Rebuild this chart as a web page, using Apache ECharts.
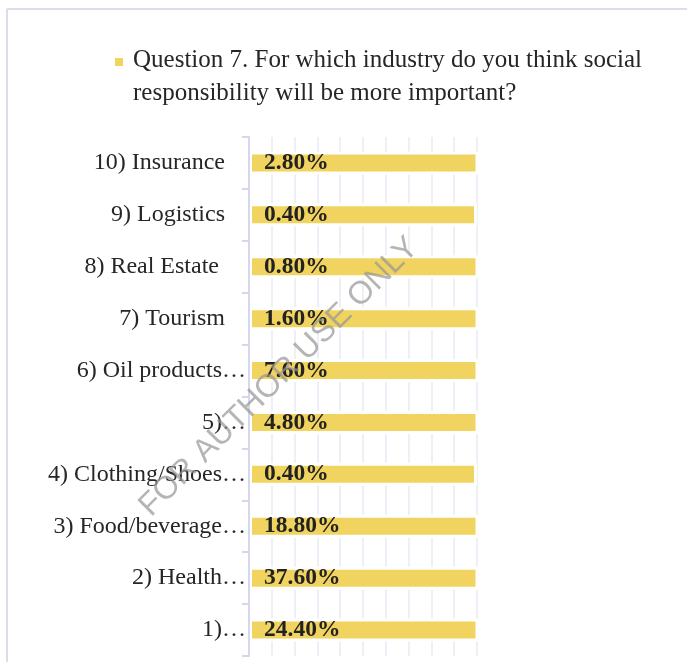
<!DOCTYPE html>
<html>
<head>
<meta charset="utf-8">
<script src="https://cdn.jsdelivr.net/npm/echarts@6/dist/echarts.min.js"></script>
<style>
  html, body { margin: 0; padding: 0; background: #fff; }
  #chart { width: 687px; height: 662px; }
</style>
</head>
<body>
<div id="chart"></div>
<script>
// Survey answers, listed bottom-to-top as the category axis draws them
const categories = [
  '1)…',
  '2) Health…',
  '3) Food/beverage…',
  '4) Clothing/Shoes…',
  '5)…',
  '6) Oil products…',
  '7) Tourism',
  '8) Real Estate ',
  '9) Logistics',
  '10) Insurance'
];
// Share of respondents, in percent
const shares = [24.4, 37.6, 18.8, 0.4, 4.8, 7.6, 1.6, 0.8, 0.4, 2.8];
const seriesName = 'Question 7. For which industry do you think social\nresponsibility will be more important?';
// Value-axis range as set on the original chart (bars past the maximum are clipped)
const axisMax = 0.4;
const axisStep = 0.04;

const serif = '"Liberation Serif", "DejaVu Serif", serif';
const barColor = '#f1d35f';
const chart = echarts.init(document.getElementById('chart'), null, { renderer: 'canvas' });

chart.setOption({
  animation: false,
  backgroundColor: '#ffffff',
  grid: { left: 249, right: 210, top: 137, bottom: 6, containLabel: false },
  xAxis: {
    type: 'value',
    min: 0,
    max: axisMax,
    interval: axisStep,
    axisLabel: { show: false },
    axisLine: { show: false },
    axisTick: { show: false },
    splitLine: { show: true, lineStyle: { color: '#eaeaf4', width: 1.5 } }
  },
  yAxis: {
    type: 'category',
    data: categories,
    z: 5,
    axisLine: { show: true, lineStyle: { color: '#d6d6ec', width: 2 } },
    axisTick: { show: true, length: 7, lineStyle: { color: '#d6d6ec', width: 2 } },
    axisLabel: {
      margin: 3,
      fontFamily: serif,
      fontSize: 24,
      color: '#262626',
      // truncated names run up to the axis, full names keep some room
      formatter: v => v.endsWith('…') ? '{t|' + v + '}' : '{f|' + v + '}',
      rich: {
        t: { fontFamily: serif, fontSize: 24, color: '#262626' },
        f: { fontFamily: serif, fontSize: 24, color: '#262626', padding: [0, 21, 0, 0] }
      }
    }
  },
  series: [{
    name: seriesName,
    type: 'bar',
    data: shares,
    clip: true,
    barWidth: 23,
    itemStyle: { color: barColor, borderColor: '#ffffff', borderWidth: 3 },
    label: {
      show: true,
      position: 'insideLeft',
      distance: 15,
      fontFamily: serif,
      fontSize: 23.5,
      fontWeight: 'bold',
      color: '#222222',
      formatter: p => p.value.toFixed(2) + '%'
    }
  }],
  graphic: [
    // panel frame
    { type: 'line', z: 10, shape: { x1: 7, y1: 9, x2: 7, y2: 662 }, style: { stroke: '#dcdcee', lineWidth: 2 } },
    { type: 'line', z: 10, shape: { x1: 7, y1: 9, x2: 687, y2: 9 }, style: { stroke: '#dcdcee', lineWidth: 2 } },
    // series key
    { type: 'rect', z: 10, shape: { x: 115, y: 58, width: 8, height: 8 }, style: { fill: barColor } },
    {
      type: 'text',
      z: 10,
      x: 133,
      y: 44,
      style: {
        text: seriesName,
        fontFamily: serif,
        fontSize: 25,
        lineHeight: 33,
        fill: '#262626',
        align: 'left',
        verticalAlign: 'top'
      }
    },
    // watermark
    {
      type: 'text',
      z: 50,
      x: 279,
      y: 377,
      rotation: Math.PI / 4,
      style: {
        text: 'FOR AUTHOR USE ONLY',
        fontFamily: '"Liberation Sans", Arial, sans-serif',
        fontSize: 32,
        fill: 'rgba(150,150,150,0.7)',
        align: 'center',
        verticalAlign: 'middle'
      }
    }
  ]
});
</script>
</body>
</html>
